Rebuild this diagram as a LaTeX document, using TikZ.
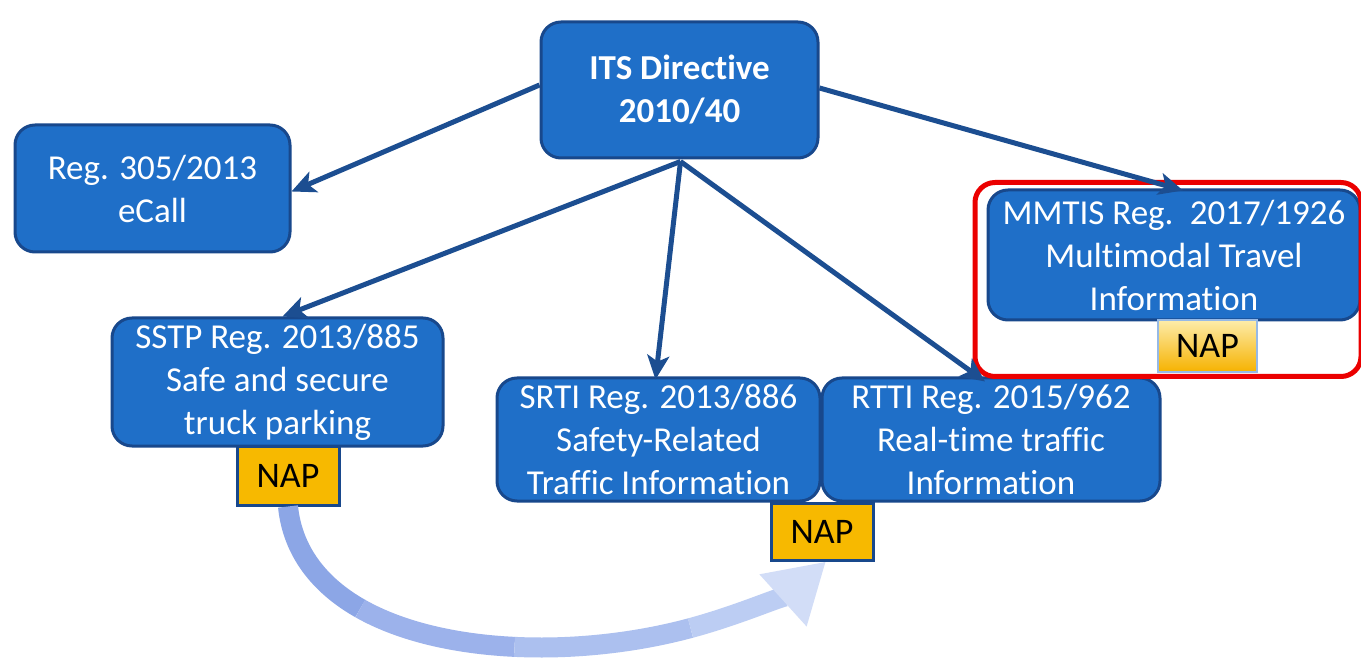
\documentclass[tikz,border=0pt]{standalone}
\usepackage{fontspec}
\setmainfont{Carlito}[Ligatures=NoCommon]
\usetikzlibrary{arrows.meta}
\definecolor{boxfill}{RGB}{31,111,200}
\definecolor{boxline}{RGB}{24,72,140}
\definecolor{arr}{RGB}{28,78,145}
\definecolor{napfill}{RGB}{247,185,0}
\definecolor{c1}{RGB}{140,166,230}
\definecolor{c2}{RGB}{156,178,235}
\definecolor{c3}{RGB}{172,192,239}
\definecolor{c4}{RGB}{188,205,243}
\definecolor{c5}{RGB}{210,221,247}
\tikzset{
  regbox/.style={draw=boxline, line width=3pt, fill=boxfill, rounded corners=20pt,
    text=white, align=center, inner sep=0pt, font=\fontsize{35}{43}\selectfont},
  napbox/.style={draw=boxline, line width=3pt, fill=napfill, inner sep=0pt,
    font=\fontsize{36}{40}\selectfont, text=black},
  link/.style={draw=arr, line width=5pt, -{Stealth[length=24pt,width=22pt,inset=6pt]}},
}
\begin{document}
\begin{tikzpicture}[x=1pt,y=-1pt]
\useasboundingbox[fill=white] (0,0) rectangle (1361,668);
% boxes
\node[regbox, minimum width=277pt, minimum height=136pt, font=\bfseries\fontsize{35}{43}\selectfont] (its) at (679.5,90) {ITS Directive\\2010/40};
\node[regbox, minimum width=275pt, minimum height=127pt] (reg) at (152.5,188.5) {Reg. 305/2013\\eCall};
\node[regbox, minimum width=372pt, minimum height=130pt] (mmtis) at (1174,255) {MMTIS Reg.\, 2017/1926\\Multimodal Travel\\Information};
\node[regbox, minimum width=331pt, minimum height=128pt] (sstp) at (277.5,382) {SSTP Reg. 2013/885\\Safe and secure\\truck parking};
\node[regbox, minimum width=323pt, minimum height=123pt] (srti) at (658.5,439.5) {SRTI Reg. 2013/886\\Safety-Related\\Traffic Information};
\node[regbox, minimum width=338pt, minimum height=123pt] (rtti) at (991,439.5) {RTTI Reg. 2015/962\\Real-time traffic\\Information};
% NAP boxes
\node[napbox, minimum width=102pt, minimum height=59pt] (nap1) at (288,475.5) {NAP};
\node[napbox, minimum width=102pt, minimum height=57pt] (nap2) at (822,531.5) {NAP};
\node[draw={rgb,255:red,150;green,185;blue,230}, line width=2pt, inner sep=0pt,
  top color={rgb,255:red,253;green,236;blue,170}, bottom color={rgb,255:red,246;green,178;blue,0},
  minimum width=99pt, minimum height=52pt, font=\fontsize{36}{40}\selectfont] (nap3) at (1207.5,346) {NAP};
% red frame
\node[draw={rgb,255:red,235;green,0;blue,0}, line width=5pt, rounded corners=20pt,
  minimum width=386pt, minimum height=194pt, inner sep=0pt] (frame) at (1168,279.5) {};
% arrows
\draw[link] ([yshift=5pt]its.west) -- ([yshift=-3pt]reg.east);
\draw[link] ([xshift=1pt,yshift=-2pt]its.south) -- ([xshift=5pt]sstp.north);
\draw[link] ([xshift=1pt,yshift=-2pt]its.south) -- ([xshift=-3pt,yshift=-3pt]srti.north);
\draw[link] ([xshift=1pt,yshift=-2pt]its.south) -- ([xshift=-6pt,yshift=-5pt]rtti.north);
\draw[link] ([yshift=2pt]its.east) -- ([xshift=9pt,yshift=-2pt]mmtis.north);
% curved arrow
\coordinate (k1) at (360.25,608.52);
\coordinate (k2) at (514.5,646.875);
\coordinate (k3) at (690.5,628.05);
\draw[c1, line width=20pt] (nap1.south) .. controls (292.5,551.25) and (319.375,585.31) .. (k1);
\draw[c2, line width=20pt] (k1) .. controls (401.125,631.72) and (456,644.06) .. (k2);
\draw[c3, line width=20pt] (k2) .. controls (573,649.69) and (635.125,642.97) .. (k3);
\draw[c4, line width=20pt, -{Triangle[length=58pt,width=66pt,color=c5]}] (k3) .. controls (745.875,613.125) and (794.5,590) .. ([xshift=4pt]nap2.south);
\end{tikzpicture}
\end{document}
